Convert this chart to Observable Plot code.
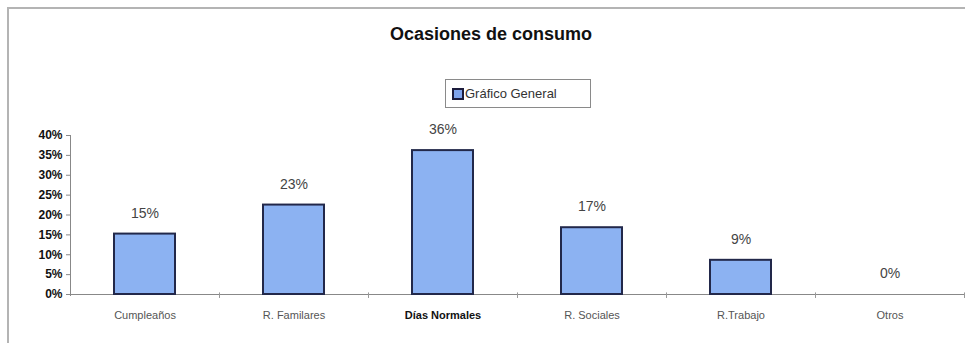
<!DOCTYPE html>
<html>
<head>
<meta charset="utf-8">
<script src="https://cdn.jsdelivr.net/npm/d3@7"></script>
<script src="https://cdn.jsdelivr.net/npm/@observablehq/plot@0.6"></script>
<style>
  html, body { margin: 0; padding: 0; background: #fff; }
  #wrap { position: relative; width: 965px; height: 343px; overflow: hidden; font-family: "Liberation Sans", Arial, sans-serif; }
  #frame { position: absolute; left: 7px; top: 7px; width: 970px; height: 400px; border-top: 2px solid #b4b4b4; border-left: 2px solid #b4b4b4; }
  #title { position: absolute; left: 291px; width: 400px; top: 23px; text-align: center; font-size: 18px; font-weight: bold; color: #111; line-height: 22px; }
  #legend { position: absolute; left: 445px; top: 79px; width: 144px; height: 27px; border: 1px solid #8a8a8a; font-size: 13px; color: #333; }
  #legend .sw { position: absolute; left: 6px; top: 8px; width: 8px; height: 8px; background: #7fa4ec; border: 2px solid #1c1c3c; }
  #legend .lb { position: absolute; left: 19px; top: 6px; line-height: 15px; }
  #chart { position: absolute; left: 0; top: 110px; }
</style>
</head>
<body>
<div id="wrap">
  <div id="frame"></div>
  <div id="title">Ocasiones de consumo</div>
  <div id="legend"><div class="sw"></div><div class="lb">Gráfico General</div></div>
  <div id="chart"></div>
</div>
<script>
const categories = ["Cumpleaños", "R. Familares", "Días Normales", "R. Sociales", "R.Trabajo", "Otros"];
const values = [0.152, 0.225, 0.362, 0.168, 0.086, 0.0];
const yTicks = [0, 0.05, 0.10, 0.15, 0.20, 0.25, 0.30, 0.35, 0.40];
const boldCategory = "Días Normales";

const data = categories.map((c, i) => ({category: c, value: values[i]}));
const step = 149;

const chart = Plot.plot({
  width: 965,
  height: 233,
  marginTop: 25,
  marginBottom: 49,
  marginLeft: 70,
  marginRight: 1,
  style: {fontFamily: "'Liberation Sans', Arial, sans-serif", background: "transparent"},
  x: {domain: categories, paddingInner: 0.59, paddingOuter: 0.295, align: 0.5, axis: null},
  y: {domain: [0, 0.4], axis: null},
  marks: [
    Plot.axisY({ticks: yTicks, label: null, tickFormat: d3.format(".0%"), tickSize: 4, tickPadding: 4, fontSize: 12, fontWeight: "bold", color: "#111", stroke: "#888"}),
    Plot.ruleX([categories[0]], {dx: -step / 2, y1: -0.005, y2: 0.4, stroke: "#888"}),
    Plot.ruleY([0], {stroke: "#888"}),
    Plot.ruleX(categories, {dx: step / 2, y1: 0.004, y2: -0.01, stroke: "#999"}),
    Plot.barY(data, {x: "category", y: "value", fill: "#8cb2f2", stroke: "#22284a", strokeWidth: 2}),
    Plot.text(data, {x: "category", y: "value", text: d => d3.format(".0%")(d.value), dy: -21, fontSize: 14, fill: "#444"}),
    Plot.text(data.filter(d => d.category !== boldCategory), {x: "category", y: 0, text: "category", dy: 21, fontSize: 11, fill: "#555"}),
    Plot.text(data.filter(d => d.category === boldCategory), {x: "category", y: 0, text: "category", dy: 21, fontSize: 11, fontWeight: "bold", fill: "#111"})
  ]
});
document.getElementById("chart").appendChild(chart);
</script>
</body>
</html>
